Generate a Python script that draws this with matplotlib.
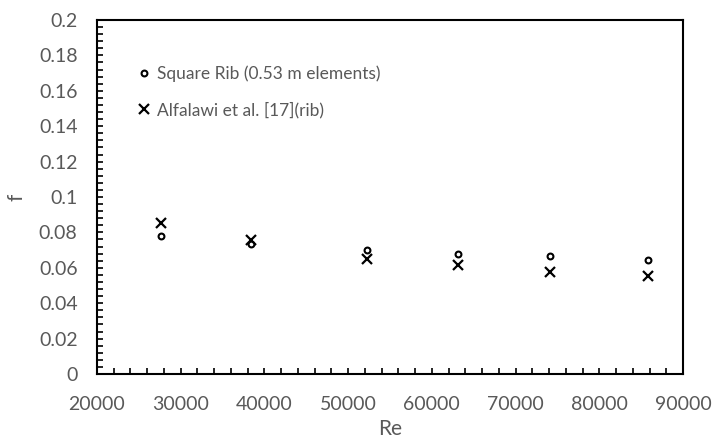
import matplotlib
matplotlib.use("Agg")
import matplotlib.pyplot as plt
from matplotlib.ticker import MultipleLocator

# Friction factor vs Reynolds number
re_values = [27600, 38400, 52300, 63100, 74100, 85800]
f_square_rib = [0.078, 0.0735, 0.070, 0.068, 0.0667, 0.0644]
f_alfalawi = [0.0855, 0.0757, 0.0648, 0.0616, 0.0578, 0.0554]

label_square = "Square Rib (0.53 m elements)"
label_alfalawi = "Alfalawi et al. [17](rib)"

x_ticks = [20000, 30000, 40000, 50000, 60000, 70000, 80000, 90000]
y_ticks = [0, 0.02, 0.04, 0.06, 0.08, 0.1, 0.12, 0.14, 0.16, 0.18, 0.2]
y_tick_labels = ["0", "0.02", "0.04", "0.06", "0.08", "0.1", "0.12",
                 "0.14", "0.16", "0.18", "0.2"]

plt.rcParams["font.family"] = ["Lato", "DejaVu Sans"]
text_gray = "#595959"

fig = plt.figure(figsize=(7.16, 4.41), dpi=100)
ax = fig.add_axes([97 / 716, 1 - 374 / 441, (683 - 97) / 716, (374 - 20) / 441])

ax.plot(re_values, f_square_rib, linestyle="none", marker="o", markersize=4.2,
        markerfacecolor="white", markeredgecolor="black", markeredgewidth=1.5,
        label=label_square)
ax.plot(re_values, f_alfalawi, linestyle="none", marker="x", markersize=6.5,
        color="black", markeredgewidth=1.6, label=label_alfalawi)

ax.set_xlim(20000, 90000)
ax.set_ylim(0, 0.2)
ax.set_xticks(x_ticks)
ax.set_xticklabels([str(v) for v in x_ticks])
ax.set_yticks(y_ticks)
ax.set_yticklabels(y_tick_labels)
ax.xaxis.set_minor_locator(MultipleLocator(2000))
ax.yaxis.set_minor_locator(MultipleLocator(0.004))

ax.tick_params(which="both", direction="in", length=4, width=1.2,
               color="black", top=False, right=False)
ax.tick_params(which="major", labelsize=14, labelcolor=text_gray)
ax.tick_params(axis="x", which="major", pad=16)
ax.tick_params(axis="y", which="major", pad=14)

for side in ["left", "right", "top", "bottom"]:
    ax.spines[side].set_linewidth(1.5)
    ax.spines[side].set_color("black")

ax.set_xlabel("Re", fontsize=15, color=text_gray, labelpad=4)
ax.set_ylabel("f", fontsize=15, color=text_gray, labelpad=9)

leg = ax.legend(loc="upper left", bbox_to_anchor=(0.06, 0.89), frameon=False,
                fontsize=12.5, handlelength=0.6, handletextpad=0.45,
                labelspacing=1.1, borderaxespad=0)
for txt in leg.get_texts():
    txt.set_color(text_gray)

fig.savefig("out.png", dpi=100)
